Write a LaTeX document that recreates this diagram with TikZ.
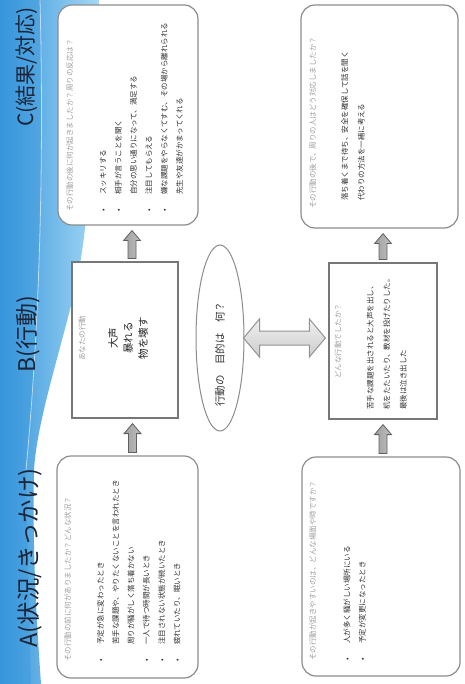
\documentclass[tikz,border=0pt]{standalone}
\usepackage{fontspec}
\setmainfont{Noto Sans CJK JP}
\usetikzlibrary{shapes.geometric,calc}
\definecolor{hdcol}{HTML}{1C2538}
\definecolor{boxline}{HTML}{8C8C8C}
\definecolor{instr}{HTML}{A0A0A0}
\definecolor{bodytxt}{HTML}{333333}
\definecolor{blueA}{HTML}{3796DB}
\definecolor{blueB}{HTML}{A5D8F5}
\newcommand\mybul{\makebox[17pt][l]{•}}
\newcommand\myind{\hspace*{17pt}}
\newcommand\myupblock[2]{%
  \draw[uparrowstyle] let \p1=(#1), \p2=(#2) in
   (\x1-4pt,\y1+3pt) -- (\x1-4pt,\y2-15pt) -- (\x1-8.5pt,\y2-15pt) -- (\x1,\y2-5pt)
   -- (\x1+8.5pt,\y2-15pt) -- (\x1+4pt,\y2-15pt) -- (\x1+4pt,\y1+3pt) -- cycle;}
\newcommand\mydblblock[2]{%
  \draw[dblarrowstyle] let \p1=(#1), \p2=(#2) in
   (\x1-1pt,\y1) -- (\x1+15pt,\y1+19pt) -- (\x1+15pt,\y1+7pt) -- (\x2-19pt,\y1+7pt)
   -- (\x2-19pt,\y1+19pt) -- (\x2-3pt,\y1) -- (\x2-19pt,\y1-19pt) -- (\x2-19pt,\y1-7pt)
   -- (\x1+15pt,\y1-7pt) -- (\x1+15pt,\y1-19pt) -- cycle;}
\begin{document}
\begin{tikzpicture}[x=1pt,y=-1pt,
  abox/.style={draw=boxline, line width=1.2pt, fill=white, rounded corners=14pt, inner sep=0pt},
  bbox/.style={draw=boxline!85!black, line width=1.2pt, fill=white, inner sep=0pt},
  rtext/.style={rotate=90, inner sep=0pt, align=left, anchor=north west, text=bodytxt,
                font=\fontsize{7.5}{15.3}\selectfont},
  ctext/.style={rotate=90, inner sep=0pt, align=center},
  heading/.style={rotate=90, inner sep=0pt, text=hdcol},
  uparrowstyle/.style={draw=gray!75!black, line width=0.8pt, left color=gray!75, right color=gray!50},
  dblarrowstyle/.style={draw=gray!85, line width=1pt, top color=gray!12, bottom color=gray!40},
]
\useasboundingbox (0,0) rectangle (464,684);
\fill[white] (0,0) rectangle (464,684);
% blue background band
\shade[left color=blueA, right color=blueB]
  (0,0) -- (99,0) .. controls (93,130) and (90,220) .. (76,285)
  .. controls (61,350) and (37,420) .. (34,470)
  .. controls (32,560) and (38,640) .. (41,684) -- (0,684) -- cycle;
\fill[blueA, opacity=0.4] (0,0) -- (40,0) .. controls (44,160) and (40,320) .. (26,470)
  .. controls (28,560) and (30,640) .. (31,684) -- (0,684) -- cycle;
\draw[white, opacity=0.6, line width=0.8pt] (40,0) .. controls (44,160) and (40,320) .. (26,470);

% headings
\node[heading, font=\fontsize{21}{24}\selectfont] (hC) at (27,67) {C(結果/対応)};
\node[heading, font=\fontsize{23}{28}\selectfont] (hB) at (28,334) {B(行動)};
\node[heading, font=\fontsize{23.5}{28}\selectfont] (hA) at (30,558) {A(状況/きっかけ)};

% boxes
\node[abox, minimum width=140pt, minimum height=220pt] (Cl) at (128,115) {};
\node[abox, minimum width=157pt, minimum height=223pt] (Cr) at (379.5,116.5) {};
\node[bbox, minimum width=106pt, minimum height=156pt] (Bl) at (125,340) {};
\node[bbox, minimum width=108pt, minimum height=156pt] (Br) at (383,341) {};
\node[abox, minimum width=141pt, minimum height=222pt] (Al) at (127.5,567) {};
\node[abox, minimum width=158pt, minimum height=219pt] (Ar) at (381,566.5) {};
\node[ellipse, draw=boxline, line width=1pt, fill=white, minimum width=48pt,
      minimum height=186pt, inner sep=0pt] (E) at (220,338) {};

% connectors
\myupblock{[xshift=7pt]Bl.north}{Cl.south}
\myupblock{[xshift=5pt]Al.north}{Bl.south}
\myupblock{Br.north}{Cr.south}
\myupblock{[xshift=2pt]Ar.north}{Br.south}
\mydblblock{E.east}{Br.west}

% texts C left
\node[rtext] (tCl) at (66,212) {\textcolor{instr}{その行動の後に何が起きましたか？周りの反応は？}\\[18pt]
 \mybul スッキリする\\
 \mybul 相手が言うことを聞く\\
 \myind 自分の思い通りになって、満足する\\
 \mybul 注目してもらえる\\
 \mybul 嫌な課題をやらなくてすむ、その場から離れられる\\
 \myind 先生や友達がかまってくれる};

% texts C right
\node[rtext, font=\fontsize{7.5}{16.5}\selectfont] (tCr) at (309,209) {\textcolor{instr}{その行動の後で、周りの人はどう対応しましたか？}\\[15.5pt]
 \hspace*{8pt}落ち着くまで待ち、安全を確保して話を聞く\\
 \hspace*{8pt}代わりの方法を一緒に考える};

% texts A left
\node[rtext] (tAl) at (64,662) {\textcolor{instr}{その行動の前に何がありましたか？どんな状況？}\\[17.5pt]
 \mybul 予定が急に変わったとき\\
 \myind 苦手な課題や、やりたくないことを言われたとき\\
 \myind 周りが騒がしく落ち着かない\\
 \mybul 一人で待つ時間が長いとき\\
 \mybul 注目されない状態が続いたとき\\
 \mybul 疲れていたり、眠いとき};

% texts A right
\node[rtext] (tAr) at (309,661) {\textcolor{instr}{その行動が起きやすいのは、どんな場面や時ですか？}\\[19pt]
 \mybul 人が多く騒がしい場所にいる\\
 \mybul 予定が変更になったとき};

% texts B left
\node[ctext, text=instr, font=\fontsize{7.5}{9}\selectfont] (tBlh) at (82,338) {あなたの行動};
\node[ctext, text=black!85, font=\fontsize{10.5}{15}\selectfont] (tBlb) at (128,338) {大声\\暴れる\\物を壊す};

% texts B right
\node[ctext, text=instr, font=\fontsize{7.5}{9}\selectfont] (tBrh) at (338,341) {どんな行動でしたか？};
\node[rtext, font=\fontsize{7.5}{16.5}\selectfont] (tBrb) at (366.5,410) {苦手な課題を出されると大声を出し、\\
 机をたたいたり、教材を投げたりした。\\
 最後は泣き出した};

% ellipse text
\node[ctext, text=bodytxt, font=\fontsize{10.5}{12}\selectfont] (tE) at (220,354) {行動の　目的は　何？};
\end{tikzpicture}
\end{document}
